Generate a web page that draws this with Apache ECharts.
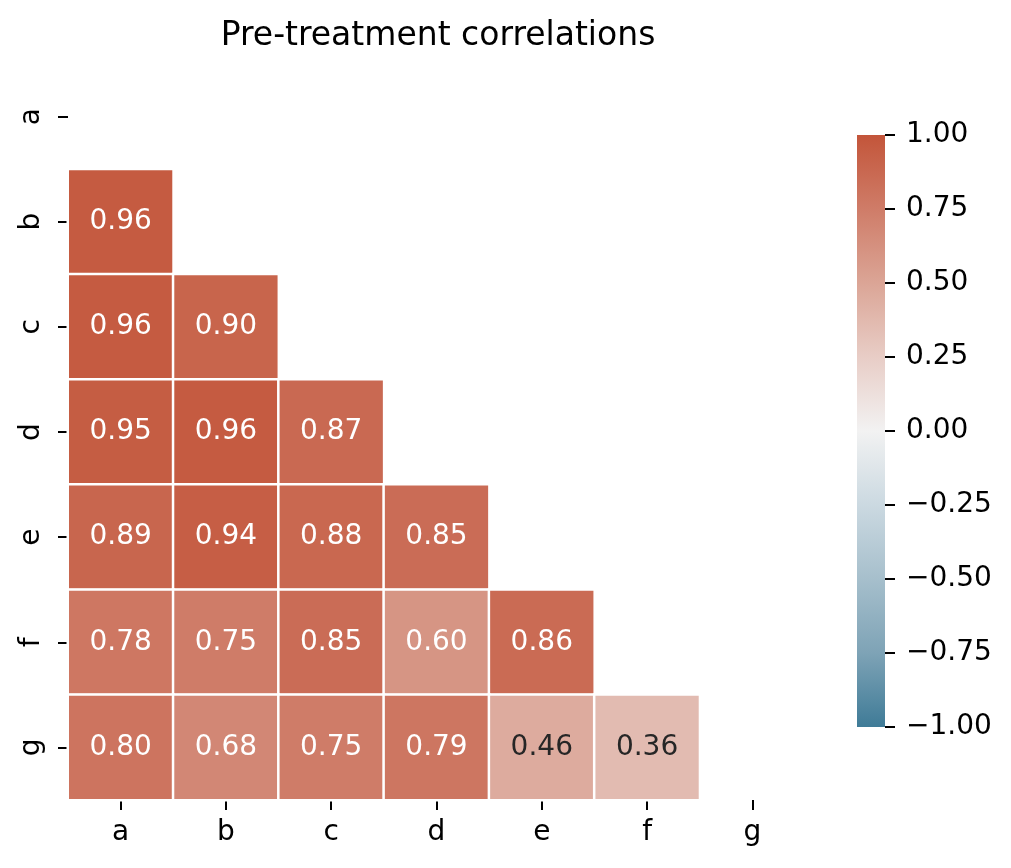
<!DOCTYPE html>
<html>
<head>
<meta charset="utf-8">
<script src="https://cdn.jsdelivr.net/npm/echarts@6/dist/echarts.min.js"></script>
<style>
html,body{margin:0;padding:0;background:#fff;}
#chart{width:1011px;height:868px;}
</style>
</head>
<body>
<div id="chart"></div>
<script>
// ---- data ----
const categories = ['a','b','c','d','e','f','g'];
const rowB = [0.96];
const rowC = [0.96, 0.90];
const rowD = [0.95, 0.96, 0.87];
const rowE = [0.89, 0.94, 0.88, 0.85];
const rowF = [0.78, 0.75, 0.85, 0.60, 0.86];
const rowG = [0.80, 0.68, 0.75, 0.79, 0.46, 0.36];
const colorbarTicks = [-1, -0.75, -0.5, -0.25, 0, 0.25, 0.5, 0.75, 1];
const colorbarTickLabels = ['\u22121.00','\u22120.75','\u22120.50','\u22120.25','0.00','0.25','0.50','0.75','1.00'];
const titleText = 'Pre-treatment correlations';

// ---- style ----
const cmapColors = ['#3f7b97','#7ea3b6','#a6bfcc','#cbd9e1','#f2f2f2','#e8cdc6','#dba596','#cf7c68','#c3553a'];
const FONT = 'DejaVu Sans';

const rows = [[], rowB, rowC, rowD, rowE, rowF, rowG];
const heatData = [];
rows.forEach((vals, r) => {
  vals.forEach((v, c) => {
    heatData.push({
      value: [c, r, v],
      label: { color: v < 0.5 ? '#262626' : '#ffffff' }
    });
  });
});

const stops = cmapColors.map((c, i) => ({ offset: 1 - i / (cmapColors.length - 1), color: c }));

const chart = echarts.init(document.getElementById('chart'), null, { renderer: 'canvas' });
chart.setOption({
  backgroundColor: '#ffffff',
  animation: false,
  title: {
    text: titleText,
    left: 433, top: 15, textAlign: 'center',
    textStyle: { fontFamily: FONT, fontSize: 33, fontWeight: 'normal', color: '#000' }
  },
  grid: [
    { left: 68, top: 64, width: 737, height: 736 },
    { left: 857, top: 135, width: 28, height: 592 }
  ],
  xAxis: [
    {
      type: 'category', gridIndex: 0, data: categories,
      axisLine: { show: false },
      axisTick: { show: true, alignWithLabel: true, length: 10, lineStyle: { color: '#000', width: 2 } },
      axisLabel: { fontFamily: FONT, fontSize: 28, color: '#000', margin: 19 },
      splitLine: { show: false }
    },
    { type: 'category', gridIndex: 1, data: ['cb'], show: false }
  ],
  yAxis: [
    {
      type: 'category', gridIndex: 0, data: categories, inverse: true,
      axisLine: { show: false },
      axisTick: { show: true, alignWithLabel: true, length: 10, lineStyle: { color: '#000', width: 2 } },
      axisLabel: { fontFamily: FONT, fontSize: 28, color: '#000', rotate: 90, margin: 22 },
      splitLine: { show: false }
    },
    {
      type: 'value', gridIndex: 1, min: -1, max: 1, interval: 0.25, position: 'right',
      axisLine: { show: false },
      axisTick: { show: true, length: 10, lineStyle: { color: '#000', width: 2 } },
      axisLabel: {
        fontFamily: FONT, fontSize: 28, color: '#000', margin: 21,
        formatter: v => {
          const i = colorbarTicks.findIndex(t => Math.abs(t - v) < 1e-9);
          return i >= 0 ? colorbarTickLabels[i] : '';
        }
      },
      splitLine: { show: false }
    }
  ],
  visualMap: {
    show: false, type: 'continuous', min: -1, max: 1, seriesIndex: 0,
    inRange: { color: cmapColors }
  },
  series: [
    {
      type: 'heatmap', xAxisIndex: 0, yAxisIndex: 0,
      data: heatData,
      itemStyle: { borderColor: '#ffffff', borderWidth: 2.5 },
      label: {
        show: true, fontFamily: FONT, fontSize: 28,
        formatter: p => p.value[2].toFixed(2)
      },
      emphasis: { disabled: true }
    },
    {
      type: 'custom', xAxisIndex: 1, yAxisIndex: 1,
      data: [[0, colorbarTicks[0], colorbarTicks[colorbarTicks.length - 1]]],
      encode: { x: 0, y: [1, 2] },
      renderItem: (params, api) => {
        const top = api.coord([api.value(0), api.value(2)]);
        const bot = api.coord([api.value(0), api.value(1)]);
        const w = api.size([1, 0])[0];
        return {
          type: 'rect',
          shape: { x: top[0] - w / 2, y: top[1], width: w, height: bot[1] - top[1] },
          style: { fill: new echarts.graphic.LinearGradient(0, 0, 0, 1, stops) }
        };
      }
    }
  ]
});
</script>
</body>
</html>
